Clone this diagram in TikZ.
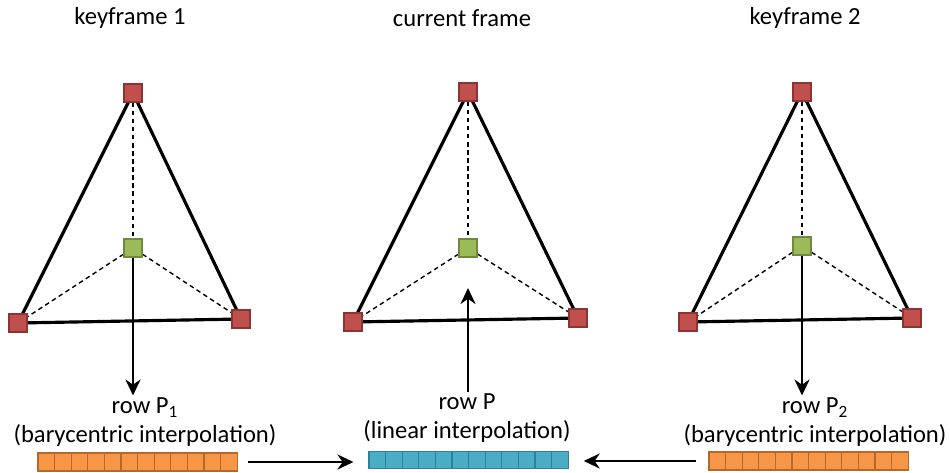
\documentclass[tikz,border=0pt]{standalone}
\usepackage{fontspec}
\setmainfont{Carlito}
\usepackage{tikz}
\usetikzlibrary{
	positioning,
	arrows.meta,
	backgrounds
}
\definecolor{vtxred}{RGB}{192,80,77}
\definecolor{vtxredline}{RGB}{140,52,50}
\definecolor{vtxgreen}{RGB}{155,187,89}
\definecolor{vtxgreenline}{RGB}{113,137,63}
\definecolor{rowor}{RGB}{247,150,70}
\definecolor{roworline}{RGB}{182,104,42}
\definecolor{rowbl}{RGB}{75,172,198}
\definecolor{rowblline}{RGB}{45,128,150}
\tikzset{
	corner/.style={draw=vtxredline,fill=vtxred,line width=0.6pt,inner sep=0pt,minimum size=3.6mm},
	inner/.style={draw=vtxgreenline,fill=vtxgreen,line width=0.6pt,inner sep=0pt,minimum size=3.6mm},
	edge/.style={line width=1.8pt},
	weight/.style={line width=0.8pt,dash pattern=on 2.6pt off 2pt},
	flow/.style={line width=1.6pt,-{Stealth[length=3.2mm,width=3mm]}},
	ocell/.style={draw=roworline,fill=rowor,line width=0.6pt,inner sep=0pt,minimum width=3.32mm,minimum height=3.6mm},
	bcell/.style={draw=rowblline,fill=rowbl,line width=0.6pt,inner sep=0pt,minimum width=3.32mm,minimum height=3.4mm},
	txt/.style={font=\fontsize{14pt}{16.5pt}\selectfont,align=center,inner sep=1pt}
}

\begin{document}
\begin{tikzpicture}[x=0.2mm,y=-0.2mm]
	\useasboundingbox (0,0) rectangle (950,473);
	% titles
	\node [txt] (ttl1) at (130,18)  {keyframe 1};
	\node [txt] (ttlc) at (462,18)  {current frame};
	\node [txt] (ttl2) at (805,18)  {keyframe 2};
	% vertices
	\draw
		node [corner] (a1) at (133,93)  {}
		node [corner] (b1) at (18,323)  {}
		node [corner] (c1) at (241,319) {}
		node [inner]  (p1) at (133,248) {}
		node [corner] (ac) at (468,92)  {}
		node [corner] (bc) at (353,322) {}
		node [corner] (cc) at (578,318) {}
		node [inner]  (pc) at (468,248) {}
		node [corner] (a2) at (802,92)  {}
		node [corner] (b2) at (688,322) {}
		node [corner] (c2) at (912,318) {}
		node [inner]  (p2) at (802,246) {}
	;
	\begin{scope}[on background layer]
		\foreach \k in {1,c,2} {
			\draw [edge] (a\k.center) -- (b\k.center) -- (c\k.center) -- cycle;
			\draw [weight] (a\k) -- (p\k);
			\draw [weight] (p\k) -- (b\k.center);
			\draw [weight] (p\k) -- (c\k.center);
		}
	\end{scope}
	% labels
	\node [txt] (lbl1) at (145,422) {row P\textsubscript{1}\\(barycentric interpolation)};
	\node [txt] (lblc) at (467,418) {row P\\(linear interpolation)};
	\node [txt] (lbl2) at (815,422) {row P\textsubscript{2}\\(barycentric interpolation)};
	% rows
	\foreach \i in {0,...,11} {
		\node [ocell] (l\i) at ({46.3+16.6*\i},462) {};
		\node [bcell] (m\i) at ({377.3+16.6*\i},460) {};
		\node [ocell] (r\i) at ({717.3+16.6*\i},461) {};
	}
	\coordinate (tipc) at (468,288);
	\draw [flow] (p1) -- (p1 |- lbl1.north);
	\draw [flow] (p2) -- (p2 |- lbl2.north);
	\draw [flow] (lblc.north -| tipc) -- (tipc);
	\draw [flow,shorten <=2mm,shorten >=3mm] (l11.east) -- (m0.west |- l11.east);
	\draw [flow,shorten <=2.4mm,shorten >=3mm] (r0.west) -- (m11.east |- r0.west);
\end{tikzpicture}
\end{document}
